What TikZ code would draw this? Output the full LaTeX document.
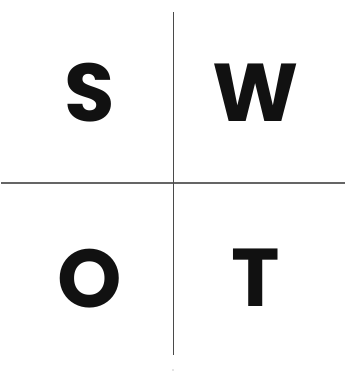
\documentclass[tikz,border=0pt]{standalone}
\usepackage{fontspec}
\setsansfont{Poppins}
\usetikzlibrary{positioning}
\definecolor{swink}  {HTML}{111111}
\definecolor{swrule} {HTML}{4A4A4A}
\definecolor{swdot}  {HTML}{8A8A8A}
\tikzset{
  swletter/.style={font=\sffamily\bfseries\fontsize{82}{82}\selectfont, text=swink,
                   inner sep=0pt, anchor=center},
  swdivider/.style={draw=swrule, line width=0.9pt},
  swhdivider/.style={draw=swrule!85, line width=1.3pt},
}
\begin{document}
\begin{tikzpicture}[x=1pt, y=-1pt]
  \useasboundingbox (0,0) rectangle (347,375);
  \coordinate (Vtop) at (173,12);
  \coordinate (Vbot) at (173,355);
  \coordinate (Hl)   at (1,183);
  \coordinate (Hr)   at (345,183);

  \draw[swhdivider] (Hl) -- (Hr);
  \draw[swdivider]  (Vtop) -- (Vbot);

  \node[swletter] (S) at (90,93)  {S};
  \node[swletter] (W) at (256,93) {W};
  \node[swletter] (O) at (90,279) {O};
  \node[swletter] (T) at (256,278) {T};

  \fill[swdot] (173,370) circle (0.7);
\end{tikzpicture}
\end{document}
